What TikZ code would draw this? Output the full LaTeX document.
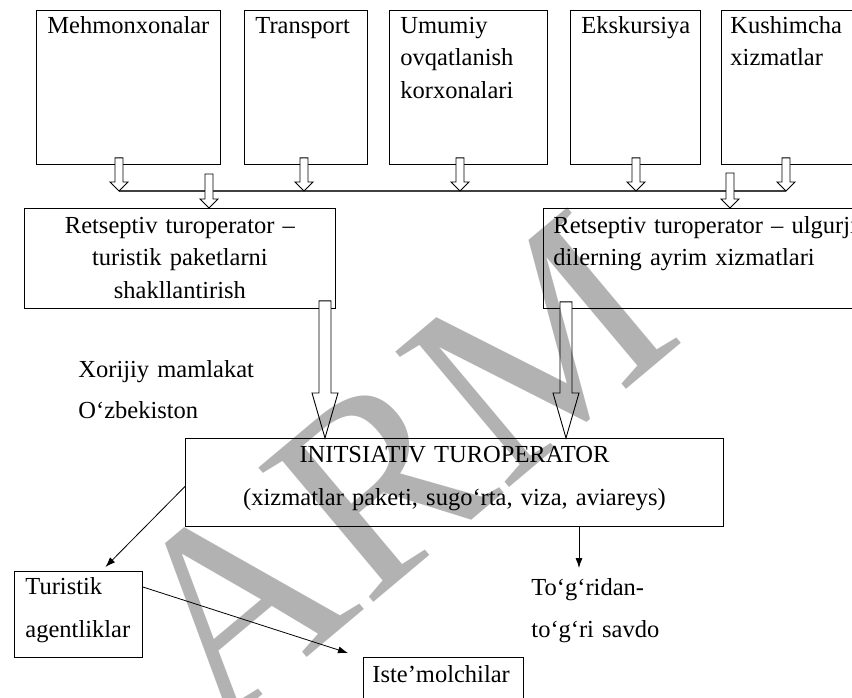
\documentclass[tikz,border=0pt]{standalone}
\usepackage{fontspec}
\setmainfont{Liberation Serif}
\usetikzlibrary{arrows.meta,calc}

% hollow block arrow: from, to, head length, shaft half width, head half width
\newcommand{\hollowarrow}[5]{%
  \draw[fill=white] let \p1=(#1), \p2=(#2) in
    (\x1-#4pt,\y1) -- (\x1+#4pt,\y1) -- (\x1+#4pt,\y2+#3pt) -- (\x1+#5pt,\y2+#3pt)
    -- (\x1,\y2) -- (\x1-#5pt,\y2+#3pt) -- (\x1-#4pt,\y2+#3pt) -- cycle;}

\begin{document}
\begin{tikzpicture}[x=1pt, y=-1pt, line width=0.9pt,
    every node/.style={font=\fontsize{24.5}{32.5}\selectfont},
    topbox/.style={draw, anchor=north west, align=left, inner xsep=11pt, inner ysep=0pt,
      text height=23pt, text depth=131pt},
    midbox/.style={draw, anchor=north west, align=center, inner xsep=10pt, inner ysep=0pt,
      text height=25pt, text depth=75pt},
    plain/.style={anchor=north west, align=left, inner sep=0pt},
    thinarrow/.style={line width=0.8pt, -{Latex[length=10pt, width=7pt]}}]
  \useasboundingbox (0,0) rectangle (852,698);
  \clip (0,0) rectangle (852,698);

  % suppliers
  \node[topbox, text width=162pt] (hotel) at (36,10) {Mehmonxonalar};
  \node[topbox, text width=101pt] (transp) at (244,10) {Transport};
  \node[topbox, text width=136pt] (food) at (389,10) {Umumiy\\ovqatlanish\\korxonalari};
  \node[topbox, text width=108pt] (excurs) at (570,10) {Ekskursiya};
  \node[topbox, text width=180pt, inner xsep=9pt] (extra) at (721,10) {Kushimcha\\xizmatlar};

  % collecting line
  \coordinate (b1) at (119,191);
  \coordinate (b2) at (304,191);
  \coordinate (b3) at (460,191);
  \coordinate (b4) at (636,191);
  \coordinate (b5) at (786,191);
  \draw[line width=1.2pt, black!75] (b1) -- (b5);
  \foreach \pt/\src in {b1/hotel, b2/transp, b3/food, b4/excurs, b5/extra}
    \hollowarrow{$(\src.south -| \pt)+(0,-7)$}{\pt}{9}{4}{9};

  % receptive operators
  \node[midbox, text width=291pt] (rleft) at (24,208)
    {Retseptiv turoperator –\\turistik paketlarni\\shakllantirish};
  \node[midbox, align=left, text width=340pt] (rright) at (543,208)
    {Retseptiv turoperator – ulgurji\\dilerning ayrim xizmatlari};
  \coordinate (r1) at (209,174);
  \coordinate (r2) at (730,173);
  \hollowarrow{r1}{rleft.north -| r1}{9}{4}{9};
  \hollowarrow{r2}{rright.north -| r2}{9}{4}{9};

  \node[plain, text width=220pt, text height=17pt, font=\fontsize{24.5}{41}\selectfont]
    (region) at (78,360) {Xorijiy mamlakat\\O‘zbekiston};

  % initiative operator
  \node[draw, anchor=north west, align=center, text width=518pt, inner xsep=10pt,
    inner ysep=0pt, text height=24pt, text depth=64pt,
    font=\fontsize{24.5}{43}\selectfont] (init) at (185,438)
    {INITSIATIV TUROPERATOR\\(xizmatlar paketi, sugo‘rta, viza, aviareys)};
  \coordinate (bigl) at (325,0);
  \coordinate (bigr) at (566,0);
  \hollowarrow{$(rleft.south -| bigl)+(0,-8)$}{init.north -| bigl}{45}{6}{13};
  \hollowarrow{$(rright.south -| bigr)+(0,-7)$}{init.north -| bigr}{45}{6}{13};

  % sales channels
  \node[draw, anchor=north west, align=left, text width=106pt, inner xsep=11pt,
    inner ysep=0pt, text height=23pt, text depth=63pt,
    font=\fontsize{24.5}{43}\selectfont] (agent) at (14,571) {Turistik\\agentliklar};
  \node[draw, anchor=north west, text width=142pt, inner xsep=9pt, inner ysep=0pt,
    text height=25pt, text depth=30pt] (cons) at (363,657) {Iste’molchilar};
  \node[plain, text width=200pt, text height=27pt, font=\fontsize{24.5}{42}\selectfont]
    (direct) at (531,568) {To‘g‘ridan-\\to‘g‘ri savdo};
  \coordinate (dtip) at ($(direct.north west)+(48,0)$);

  \draw[thinarrow] ($(init.west)+(0,4)$) -- ($(agent.north)+(27,-4)$);
  \draw[thinarrow] ($(agent.north east)+(0,16)$) -- ($(cons.north west)+(-15,-4)$);
  \draw[thinarrow] (init.south -| dtip) -- (dtip);

  % watermark
  \node[text=black, text opacity=0.3, rotate=40, font=\fontsize{270}{270}\selectfont]
    (mark) at (395,468) {ARM};
\end{tikzpicture}
\end{document}
